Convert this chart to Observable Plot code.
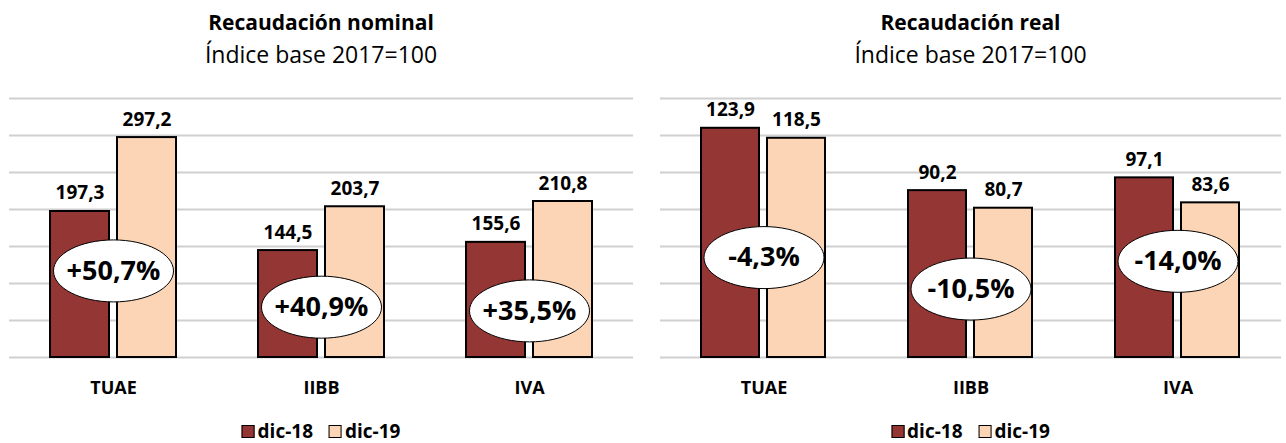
<!DOCTYPE html>
<html>
<head>
<meta charset="utf-8">
<script src="https://cdn.jsdelivr.net/npm/d3@7"></script>
<script src="https://cdn.jsdelivr.net/npm/@observablehq/plot@0.6"></script>
<style>
  html, body { margin: 0; padding: 0; background: #fff; }
  body { width: 1286px; height: 443px; overflow: hidden; font-family: "Open Sans", sans-serif; color: #000; }
  #wrap { display: flex; }
  .panel { width: 643px; }
  .head { height: 80px; position: relative; }
  .title { position: absolute; top: 8px; font-weight: bold; font-size: 21px; white-space: nowrap; transform: translateX(-50%); }
  .sub { position: absolute; top: 38px; font-size: 23px; white-space: nowrap; transform: translateX(-50%); }
  .legend { height: 33px; position: relative; }
  .legend .inner { position: absolute; top: 8px; transform: translateX(-50%); display: flex; align-items: center; white-space: nowrap; font-weight: bold; font-size: 19px; }
  .sw { width: 11px; height: 11px; border: 1px solid #000; margin-right: 3px; }
  .item { display: flex; align-items: center; margin-right: 16px; }
  .item:last-child { margin-right: 0; }
</style>
</head>
<body>
<div id="wrap"></div>
<script>
// ---- data ----
const categories = ["TUAE", "IIBB", "IVA"];
const series = ["dic-18", "dic-19"];
const nominalDic18 = [197.3, 144.5, 155.6];
const nominalDic19 = [297.2, 203.7, 210.8];
const realDic18 = [123.9, 90.2, 97.1];
const realDic19 = [118.5, 80.7, 83.6];
const nominalChange = ["+50,7%", "+40,9%", "+35,5%"];
const realChange = ["-4,3%", "-10,5%", "-14,0%"];
const colors = ["#943634", "#FBD5B5"];

// ---- layout (badge anchors in data units) ----
const panels = [
  {title: "Recaudación nominal", sub: "Índice base 2017=100", a: nominalDic18, b: nominalDic19,
   change: nominalChange, badgeAt: [117, 68, 63], yMax: 350, yStep: 50, ml: 9, mr: 10},
  {title: "Recaudación real", sub: "Índice base 2017=100", a: realDic18, b: realDic19,
   change: realChange, badgeAt: [54, 37, 52], yMax: 140, yStep: 20, ml: 16, mr: 4}
];

const fmt = v => v.toFixed(1).replace(".", ",");

const ellipse = {
  draw(ctx) {
    const rx = 60, ry = 31, k = 0.5523;
    ctx.moveTo(rx, 0);
    ctx.bezierCurveTo(rx, ry * k, rx * k, ry, 0, ry);
    ctx.bezierCurveTo(-rx * k, ry, -rx, ry * k, -rx, 0);
    ctx.bezierCurveTo(-rx, -ry * k, -rx * k, -ry, 0, -ry);
    ctx.bezierCurveTo(rx * k, -ry, rx, -ry * k, rx, 0);
    ctx.closePath();
  }
};

const wrap = document.getElementById("wrap");
for (const p of panels) {
  const rows = [];
  categories.forEach((c, i) => {
    rows.push({cat: c, series: series[0], value: p.a[i]});
    rows.push({cat: c, series: series[1], value: p.b[i]});
  });
  const badges = categories.map((c, i) => ({cat: c, at: p.badgeAt[i], label: p.change[i]}));

  const panel = document.createElement("div");
  panel.className = "panel";
  const W = 643;
  const cx = p.ml + (W - p.ml - p.mr) / 2;

  const head = document.createElement("div");
  head.className = "head";
  head.innerHTML = `<div class="title" style="left:${cx}px">${p.title}</div><div class="sub" style="left:${cx}px">${p.sub}</div>`;
  panel.appendChild(head);

  const chart = Plot.plot({
    width: W,
    height: 330,
    marginTop: 18,
    marginBottom: 53,
    marginLeft: p.ml,
    marginRight: p.mr,
    style: {fontFamily: "Open Sans", background: "white"},
    fx: {domain: categories, padding: 0, label: null},
    x: {domain: series, paddingInner: 0.12, paddingOuter: 0.61, axis: null},
    y: {domain: [0, p.yMax], axis: null},
    color: {domain: series, range: colors},
    marks: [
      Plot.ruleY(d3.range(0, p.yMax + 1, p.yStep), {stroke: "#d0d0d0", strokeWidth: 2}),
      Plot.barY(rows, {fx: "cat", x: "series", y: "value", fill: "series", stroke: "black", strokeWidth: 2}),
      Plot.text(rows, {fx: "cat", x: "series", y: "value", text: d => fmt(d.value), lineAnchor: "bottom", dy: -12, fontSize: 19, fontWeight: "bold", fill: "black"}),
      Plot.dot(badges, {fx: "cat", y: "at", symbol: ellipse, r: 10, fill: "white", stroke: "black", strokeWidth: 1}),
      Plot.text(badges, {fx: "cat", y: "at", text: "label", fontSize: 27, fontWeight: "bold", fill: "black", letterSpacing: "-1.5px"}),
      Plot.axisFx({anchor: "bottom", tickSize: 0, tickPadding: 24, fontSize: 18, fontWeight: "bold", label: null})
    ]
  });
  panel.appendChild(chart);

  const leg = document.createElement("div");
  leg.className = "legend";
  leg.innerHTML = `<div class="inner" style="left:${cx}px">` +
    series.map((s, i) => `<div class="item"><div class="sw" style="background:${colors[i]}"></div><span>${s}</span></div>`).join("") +
    `</div>`;
  panel.appendChild(leg);
  wrap.appendChild(panel);
}
</script>
</body>
</html>
